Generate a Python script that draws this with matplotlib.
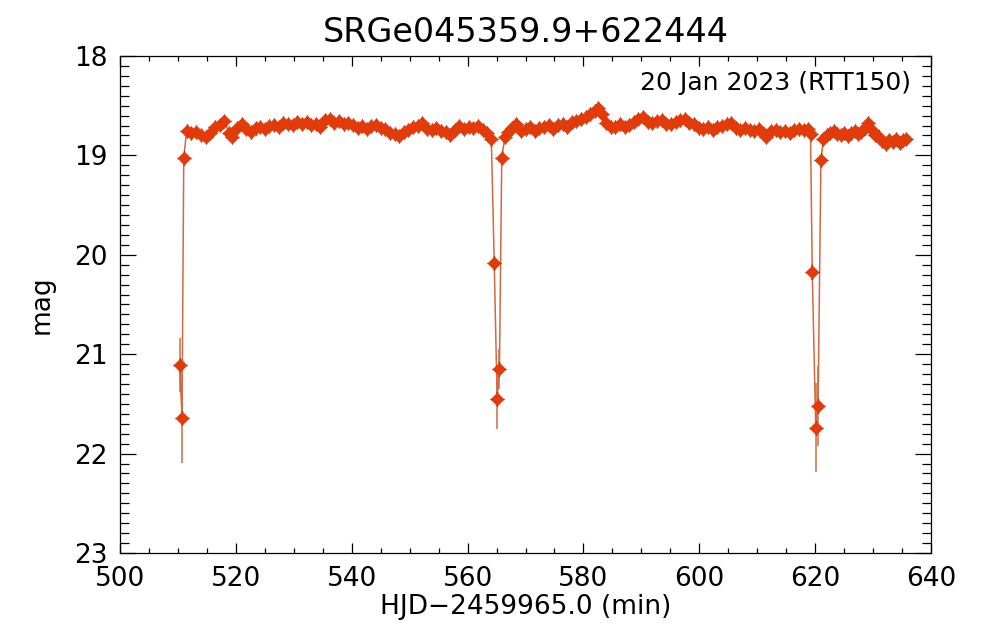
import numpy as np
import matplotlib
matplotlib.use("Agg")
import matplotlib.pyplot as plt
from matplotlib.ticker import MultipleLocator

# out-of-eclipse points (time in min, magnitude)
t_base = [511.5, 512.3, 513.1, 514.0, 514.8, 515.6, 516.4, 517.2, 518.0, 518.8,
          519.4, 520.2, 521.0, 521.8, 522.6, 523.4, 524.2, 525.0, 525.8, 526.6,
          527.4, 528.2, 529.0, 529.8, 530.6, 531.4, 532.2, 533.0, 533.8, 534.6,
          535.4, 536.2, 537.0, 537.8, 538.6, 539.4, 540.2, 541.0, 541.8, 542.6,
          543.4, 544.2, 545.0, 545.8, 546.6, 547.4, 548.2, 549.0, 549.8, 550.6,
          551.4, 552.2, 553.0, 553.8, 554.6, 555.4, 556.2, 557.0, 557.8, 558.6,
          559.4, 560.2, 561.0, 561.8, 562.6, 563.4, 564.1,
          566.4, 567.0, 567.6, 568.4, 569.2, 570.0, 570.8, 571.6, 572.4, 573.2,
          574.0, 574.8, 575.6, 576.4, 577.2, 578.0, 578.8, 579.6, 580.4, 581.2,
          582.0, 582.6, 583.2, 583.9, 584.7, 585.5, 586.3, 587.1, 587.9, 588.7,
          589.5, 590.3, 591.1, 591.9, 592.7, 593.5, 594.3, 595.1, 595.9, 596.7,
          597.5, 598.3, 599.1, 599.9, 600.7, 601.5, 602.3, 603.1, 603.9, 604.7,
          605.5, 606.3, 607.1, 607.9, 608.7, 609.5, 610.3, 611.1, 611.6, 612.4,
          613.2, 614.0, 614.8, 615.6, 616.4, 617.2, 618.0, 618.8, 619.2,
          621.4, 622.0, 622.6, 623.2, 623.8, 624.4, 625.0, 625.6, 626.2, 626.8,
          627.4, 628.0, 628.6, 629.2, 629.8, 630.4, 631.0, 631.6, 632.2, 632.8,
          633.4, 634.0, 634.6, 635.2, 635.6]
mag_base = [18.75, 18.77, 18.76, 18.80, 18.82, 18.77, 18.71, 18.69, 18.65, 18.77,
            18.82, 18.72, 18.68, 18.73, 18.76, 18.72, 18.71, 18.73, 18.70, 18.69,
            18.71, 18.67, 18.68, 18.69, 18.66, 18.68, 18.66, 18.69, 18.68, 18.71,
            18.64, 18.63, 18.67, 18.65, 18.68, 18.67, 18.69, 18.72, 18.70, 18.73,
            18.70, 18.69, 18.72, 18.73, 18.77, 18.78, 18.81, 18.76, 18.74, 18.71,
            18.70, 18.67, 18.73, 18.74, 18.72, 18.75, 18.76, 18.79, 18.74, 18.70,
            18.73, 18.71, 18.72, 18.70, 18.74, 18.77, 18.84,
            18.82, 18.76, 18.72, 18.68, 18.75, 18.73, 18.71, 18.75, 18.72, 18.71,
            18.69, 18.73, 18.69, 18.68, 18.71, 18.66, 18.65, 18.63, 18.61, 18.58,
            18.55, 18.52, 18.58, 18.67, 18.71, 18.71, 18.68, 18.71, 18.69, 18.66,
            18.63, 18.61, 18.66, 18.67, 18.65, 18.64, 18.68, 18.68, 18.66, 18.64,
            18.63, 18.67, 18.68, 18.72, 18.73, 18.71, 18.74, 18.71, 18.70, 18.68,
            18.67, 18.72, 18.74, 18.72, 18.74, 18.75, 18.73, 18.78, 18.82, 18.75,
            18.74, 18.76, 18.75, 18.77, 18.74, 18.73, 18.74, 18.73, 18.78,
            18.84, 18.80, 18.77, 18.75, 18.78, 18.80, 18.77, 18.81, 18.77, 18.75,
            18.78, 18.76, 18.72, 18.67, 18.74, 18.80, 18.82, 18.86, 18.89, 18.85,
            18.87, 18.84, 18.88, 18.85, 18.84]
err_base = 0.03

# points inside the three eclipses
t_ecl = [510.3, 510.7, 511.0, 564.6, 565.1, 565.5, 565.9, 619.5, 620.1, 620.5, 621.0]
mag_ecl = [21.11, 21.64, 19.03, 20.08, 21.45, 21.15, 19.03, 20.17, 21.74, 21.52, 19.05]
err_ecl = [0.27, 0.45, 0.05, 0.06, 0.30, 0.20, 0.05, 0.08, 0.45, 0.40, 0.05]

t = np.array(t_base + t_ecl)
mag = np.array(mag_base + mag_ecl)
err = np.array([err_base] * len(t_base) + err_ecl)
order = np.argsort(t)
t, mag, err = t[order], mag[order], err[order]

red = "#e23a08"
line_c = "#cf6a42"

fig = plt.figure(figsize=(9.83, 6.31), dpi=100)
ax = fig.add_axes([0.1221, 0.1236, 0.8250, 0.7877])

ax.plot(t, mag, color=line_c, lw=1.1, zorder=2)
ax.errorbar(t, mag, yerr=err, fmt="none", ecolor=line_c, elinewidth=1.1, zorder=2)
ax.plot(t, mag, "+", color="black", ms=10, mew=0.9, zorder=3)
ax.plot(t, mag, "D", color=red, ms=6.3, mec=red, zorder=4)

ax.set_xlim(500, 640)
ax.set_ylim(23, 18)
ax.xaxis.set_major_locator(MultipleLocator(20))
ax.xaxis.set_minor_locator(MultipleLocator(5))
ax.yaxis.set_major_locator(MultipleLocator(1))
ax.yaxis.set_minor_locator(MultipleLocator(0.1))

ax.tick_params(axis="both", which="both", direction="in", top=True, right=True,
               width=0.9, labelsize=19, colors="black")
ax.tick_params(axis="x", which="major", length=7.2, pad=9)
ax.tick_params(axis="x", which="minor", length=3.6)
ax.tick_params(axis="y", which="major", length=11.5, pad=9)
ax.tick_params(axis="y", which="minor", length=6.5)
for s in ax.spines.values():
    s.set_linewidth(0.9)

ax.set_xlabel("HJD\u22122459965.0 (min)", fontsize=19, labelpad=2)
ax.set_ylabel("mag", fontsize=19, labelpad=14)
ax.set_title("SRGe045359.9+622444", fontsize=24, pad=10)
ax.text(0.975, 0.945, "20 Jan 2023 (RTT150)", transform=ax.transAxes,
        ha="right", va="center", fontsize=18)

fig.savefig("out.png", dpi=100)
